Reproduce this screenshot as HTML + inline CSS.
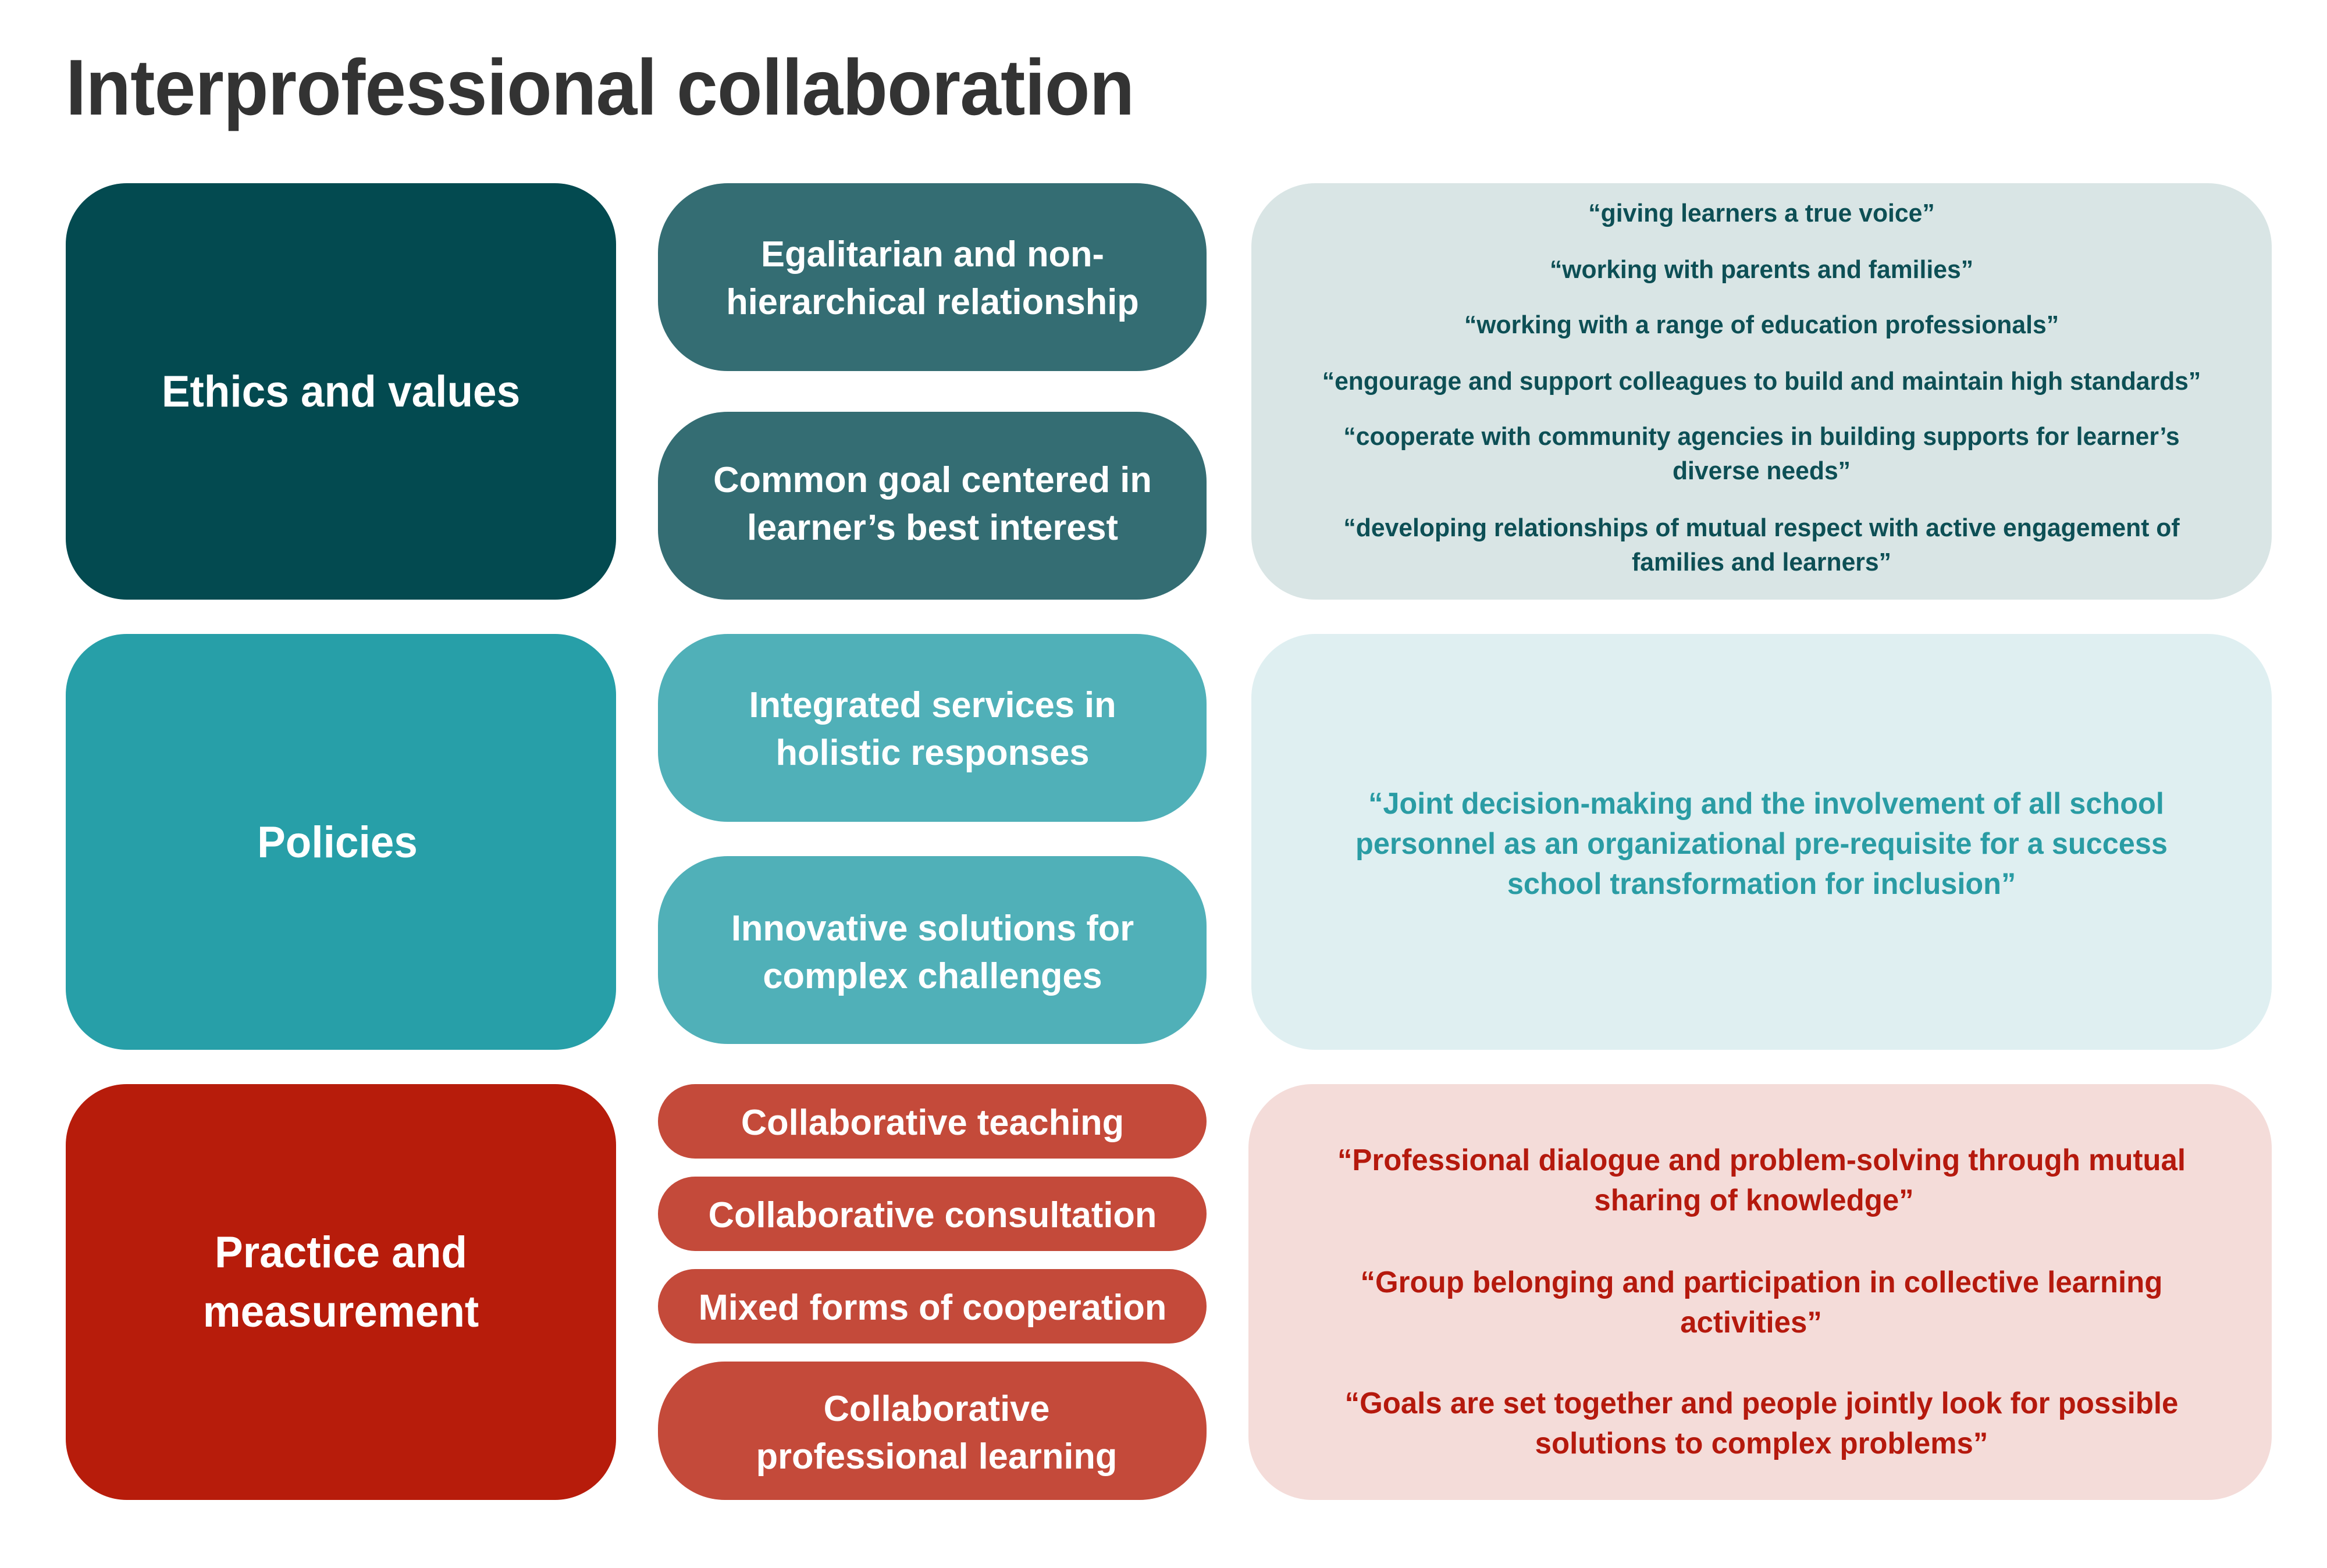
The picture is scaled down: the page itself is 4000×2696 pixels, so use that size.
<!DOCTYPE html>
<html><head><meta charset="utf-8"><style>
*{margin:0;padding:0;box-sizing:border-box}
body{width:4000px;height:2696px;background:#fff;position:relative;overflow:hidden;font-family:"Liberation Sans",sans-serif;font-weight:bold}
.b{position:absolute}
.t{position:absolute;white-space:nowrap;text-align:center;transform:translateX(-50%) scaleX(var(--s,.9));transform-origin:center}
</style></head><body>
<div style="position:absolute;left:113px;top:80px;font-size:136px;line-height:140px;color:#333;transform:scaleX(.935);transform-origin:left;letter-spacing:-1px;white-space:nowrap">Interprofessional collaboration</div>

<div class="b" style="left:113px;top:315px;width:946px;height:716px;border-radius:105px;background:#034a50"></div>
<div class="b" style="left:1131px;top:315px;width:943px;height:323px;border-radius:120px;background:#346d73"></div>
<div class="b" style="left:1131px;top:708px;width:943px;height:323px;border-radius:120px;background:#346d73"></div>
<div class="b" style="left:2151px;top:315px;width:1754px;height:716px;border-radius:110px;background:#d9e5e5"></div>

<div class="b" style="left:113px;top:1090px;width:946px;height:715px;border-radius:105px;background:#279fa8"></div>
<div class="b" style="left:1131px;top:1090px;width:943px;height:323px;border-radius:120px;background:#50b0b8"></div>
<div class="b" style="left:1131px;top:1472px;width:943px;height:323px;border-radius:120px;background:#50b0b8"></div>
<div class="b" style="left:2151px;top:1090px;width:1754px;height:715px;border-radius:110px;background:#dfeff1"></div>

<div class="b" style="left:113px;top:1864px;width:946px;height:715px;border-radius:105px;background:#b71c0b"></div>
<div class="b" style="left:1131px;top:1864px;width:943px;height:128px;border-radius:64px;background:#c44a3a"></div>
<div class="b" style="left:1131px;top:2023px;width:943px;height:128px;border-radius:64px;background:#c44a3a"></div>
<div class="b" style="left:1131px;top:2182px;width:943px;height:128px;border-radius:64px;background:#c44a3a"></div>
<div class="b" style="left:1131px;top:2341px;width:943px;height:238px;border-radius:115px;background:#c44a3a"></div>
<div class="b" style="left:2146px;top:1864px;width:1759px;height:715px;border-radius:110px;background:#f4dcd9"></div>

<div style="--s:.96;color:#fff;font-size:76px">
<div class="t" style="left:586px;top:629px;line-height:90px">Ethics and values</div>
<div class="t" style="left:580px;top:1404px;line-height:90px">Policies</div>
<div class="t" style="left:586px;top:2109px;line-height:90px">Practice and</div>
<div class="t" style="left:586px;top:2211px;line-height:90px">measurement</div>
</div>

<div style="--s:.99;color:#fff;font-size:62px">
<div class="t" style="left:1603px;top:403px;line-height:70px">Egalitarian and non-</div>
<div class="t" style="left:1603px;top:485px;line-height:70px">hierarchical relationship</div>
<div class="t" style="left:1603px;top:791px;line-height:70px">Common goal centered in</div>
<div class="t" style="left:1603px;top:873px;line-height:70px">learner’s best interest</div>
<div class="t" style="left:1603px;top:1178px;line-height:70px">Integrated services in</div>
<div class="t" style="left:1603px;top:1260px;line-height:70px">holistic responses</div>
<div class="t" style="left:1603px;top:1562px;line-height:70px">Innovative solutions for</div>
<div class="t" style="left:1603px;top:1644px;line-height:70px">complex challenges</div>
<div class="t" style="left:1603px;top:1896px;line-height:70px">Collaborative teaching</div>
<div class="t" style="left:1603px;top:2055px;line-height:70px">Collaborative consultation</div>
<div class="t" style="left:1603px;top:2214px;line-height:70px">Mixed forms of cooperation</div>
<div class="t" style="left:1610px;top:2388px;line-height:70px">Collaborative</div>
<div class="t" style="left:1610px;top:2470px;line-height:70px">professional learning</div>
</div>

<div style="--s:.97;color:#0d4f55;font-size:44px">
<div class="t" style="left:3028px;top:342px;line-height:50px">“giving learners a true voice”</div>
<div class="t" style="left:3028px;top:439px;line-height:50px">“working with parents and families”</div>
<div class="t" style="left:3028px;top:534px;line-height:50px">“working with a range of education professionals”</div>
<div class="t" style="left:3028px;top:631px;line-height:50px">“engourage and support colleagues to build and maintain high standards”</div>
<div class="t" style="left:3028px;top:726px;line-height:50px">“cooperate with community agencies in building supports for learner’s</div>
<div class="t" style="left:3028px;top:785px;line-height:50px">diverse needs”</div>
<div class="t" style="left:3028px;top:883px;line-height:50px">“developing relationships of mutual respect with active engagement of</div>
<div class="t" style="left:3028px;top:942px;line-height:50px">families and learners”</div>
</div>

<div style="--s:.97;color:#2a9ca4;font-size:52px">
<div class="t" style="left:3036px;top:1352px;line-height:60px">“Joint decision-making and the involvement of all school</div>
<div class="t" style="left:3028px;top:1421px;line-height:60px">personnel as an organizational pre-requisite for a success</div>
<div class="t" style="left:3028px;top:1490px;line-height:60px">school transformation for inclusion”</div>
</div>

<div style="--s:.98;color:#b5190d;font-size:52px">
<div class="t" style="left:3028px;top:1965px;line-height:60px">“Professional dialogue and problem-solving through mutual</div>
<div class="t" style="left:3015px;top:2034px;line-height:60px">sharing of knowledge”</div>
<div class="t" style="left:3028px;top:2175px;line-height:60px">“Group belonging and participation in collective learning</div>
<div class="t" style="left:3010px;top:2244px;line-height:60px">activities”</div>
<div class="t" style="left:3028px;top:2383px;line-height:60px">“Goals are set together and  people jointly look for possible</div>
<div class="t" style="left:3028px;top:2452px;line-height:60px">solutions to complex problems”</div>
</div>
</body></html>
